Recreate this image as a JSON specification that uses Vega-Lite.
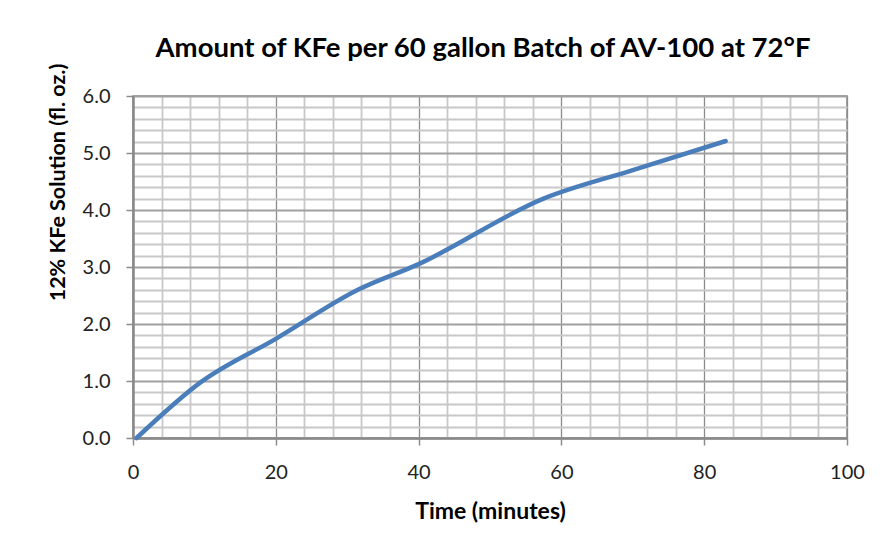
{
  "$schema": "https://vega.github.io/schema/vega-lite/v6.json",
  "autosize": "none",
  "width": 714,
  "height": 342,
  "padding": {"left": 133, "top": 96, "right": 35, "bottom": 112},
  "background": "white",
  "title": {
    "text": "Amount of KFe per 60 gallon Batch of AV-100 at 72°F",
    "font": "Lato",
    "fontSize": 27.5,
    "fontWeight": "bold",
    "color": "#000000",
    "anchor": "middle",
    "frame": "group",
    "baseline": "bottom",
    "offset": 28,
    "dx": -7,
    "dy": 58
  },
  "config": {
    "view": {"stroke": "#888888", "strokeWidth": 1.5},
    "axis": {
      "labelFont": "Lato",
      "titleFont": "Lato",
      "labelColor": "#222222",
      "titleColor": "#000000"
    }
  },
  "data": {
    "values": [
      {"time": 0.5, "solution": 0.0},
      {"time": 9.5, "solution": 0.98},
      {"time": 20, "solution": 1.74},
      {"time": 31.5, "solution": 2.6},
      {"time": 40, "solution": 3.05},
      {"time": 57.5, "solution": 4.2},
      {"time": 70, "solution": 4.7},
      {"time": 83, "solution": 5.21}
    ]
  },
  "mark": {
    "type": "line",
    "color": "#4a7ebb",
    "strokeWidth": 4.5,
    "strokeCap": "round",
    "interpolate": "monotone"
  },
  "encoding": {
    "x": {
      "field": "time",
      "type": "quantitative",
      "scale": {"domain": [0, 100], "nice": false, "zero": true},
      "axis": {
        "title": "Time (minutes)",
        "titleFontSize": 23,
        "titleFontWeight": "bold",
        "titleBaseline": "alphabetic",
        "titleY": 80,
        "values": [0, 4, 8, 12, 16, 20, 24, 28, 32, 36, 40, 44, 48, 52, 56, 60, 64, 68, 72, 76, 80, 84, 88, 92, 96, 100],
        "labelExpr": "datum.value % 20 === 0 ? datum.label : ''",
        "labelFontSize": 20,
        "labelBaseline": "alphabetic",
        "labelPadding": 33,
        "labelFlush": false,
        "labelOverlap": false,
        "grid": true,
        "gridColor": {"condition": {"test": "datum.value % 20 === 0", "value": "#8c8c8c"}, "value": "#c8c8c8"},
        "gridWidth": {"condition": {"test": "datum.value % 20 === 0", "value": 1.3}, "value": 1.8},
        "tickSize": 7,
        "tickColor": "#8c8c8c",
        "tickWidth": 1.5,
        "tickOpacity": {"condition": {"test": "datum.value % 20 === 0", "value": 1}, "value": 0},
        "domainColor": "#8a8a8a",
        "domainWidth": 2.5
      }
    },
    "y": {
      "field": "solution",
      "type": "quantitative",
      "scale": {"domain": [0, 6], "nice": false},
      "axis": {
        "title": "12% KFe  Solution (fl. oz.)",
        "titleFontSize": 21.5,
        "titleFontWeight": "bold",
        "titleAngle": -90,
        "titleBaseline": "alphabetic",
        "titleAlign": "center",
        "titleX": -69,
        "titleY": 86,
        "values": [0, 0.2, 0.4, 0.6, 0.8, 1, 1.2, 1.4, 1.6, 1.8, 2, 2.2, 2.4, 2.6, 2.8, 3, 3.2, 3.4, 3.6, 3.8, 4, 4.2, 4.4, 4.6, 4.8, 5, 5.2, 5.4, 5.6, 5.8, 6],
        "format": ".1f",
        "labelExpr": "abs(datum.value - round(datum.value)) < 0.001 ? datum.label : ''",
        "labelFontSize": 20,
        "labelPadding": 16,
        "labelBaseline": "middle",
        "labelFlush": false,
        "labelOverlap": false,
        "grid": true,
        "gridColor": {"condition": {"test": "abs(datum.value - round(datum.value)) < 0.001", "value": "#a0a0a0"}, "value": "#c8c8c8"},
        "gridWidth": 1.8,
        "tickSize": 7,
        "tickColor": "#8c8c8c",
        "tickWidth": 1.5,
        "tickOpacity": {"condition": {"test": "abs(datum.value - round(datum.value)) < 0.001", "value": 1}, "value": 0},
        "domainColor": "#8a8a8a",
        "domainWidth": 2.5
      }
    }
  }
}
